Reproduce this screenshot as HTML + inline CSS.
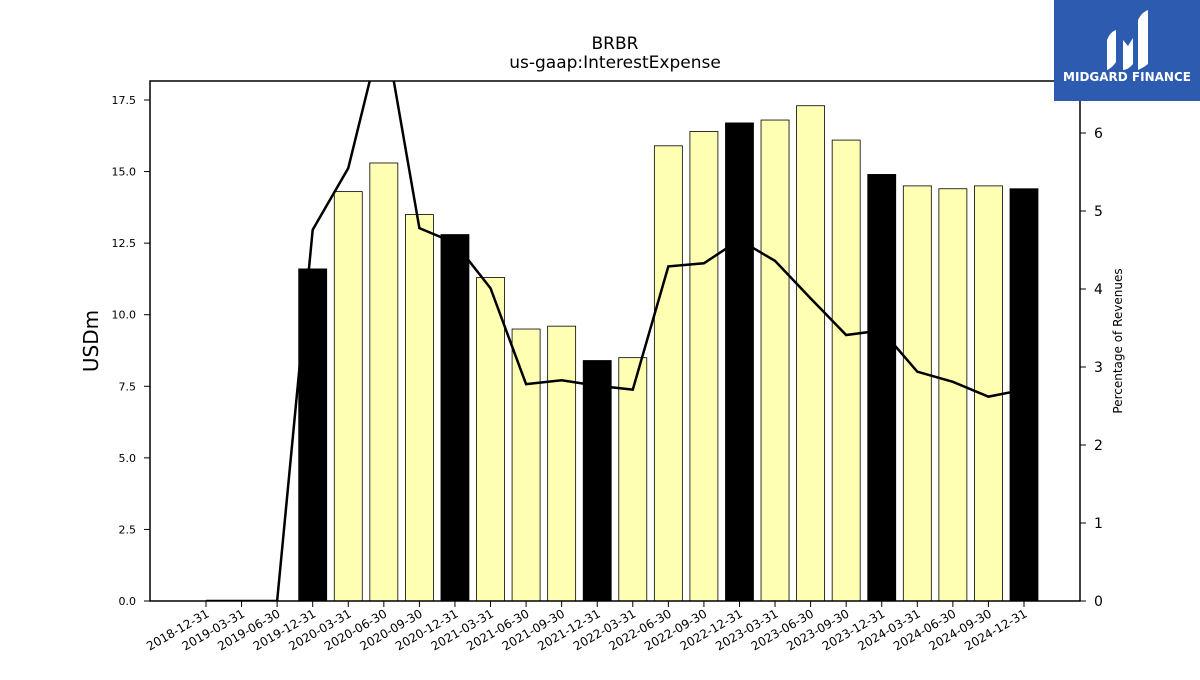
<!DOCTYPE html>
<html><head><meta charset="utf-8"><style>
body{margin:0;background:#fff;width:1200px;height:675px;overflow:hidden;font-family:"Liberation Sans","DejaVu Sans",sans-serif}
</style></head><body>
<svg id="chart" width="1200" height="675" xmlns="http://www.w3.org/2000/svg" font-family="DejaVu Sans, Liberation Sans, sans-serif">
<text x="615" y="49" text-anchor="middle" font-size="17">BRBR</text>
<text x="615" y="68" text-anchor="middle" font-size="17">us-gaap:InterestExpense</text>
<defs><clipPath id="pc"><rect x="150" y="81" width="930" height="520"/></clipPath></defs>
<g id="bars"></g>
<g id="line" clip-path="url(#pc)"></g>
<rect x="150" y="81" width="930" height="520" fill="none" stroke="#000" stroke-width="1.5"/>
<g id="axes"></g>
<text transform="translate(98,341) rotate(-90)" text-anchor="middle" font-size="20">USDm</text>
<text transform="translate(1122,341) rotate(-90)" text-anchor="middle" font-size="12">Percentage of Revenues</text>
<g>
<rect x="1054" y="0" width="146" height="101" fill="#2d5bb0"/>
<path d="M1107 70 L1107 40 Q1110 32 1116 30 L1116 62 Q1112 68 1107 70Z" fill="#fff"/>
<path d="M1123 70 L1123 40 L1128 46 L1133 38 L1133 64 Q1128 70 1123 70Z" fill="#fff"/>
<path d="M1138 70 L1138 20 Q1142 12 1148 10 L1148 64 Q1143 68 1138 70Z" fill="#fff"/>
<text x="1127" y="81" text-anchor="middle" font-size="12" font-weight="bold" fill="#fff">MIDGARD FINANCE</text>
</g>
</svg>
<script>
const categories=["2018-12-31","2019-03-31","2019-06-30","2019-12-31","2020-03-31","2020-06-30","2020-09-30","2020-12-31","2021-03-31","2021-06-30","2021-09-30","2021-12-31","2022-03-31","2022-06-30","2022-09-30","2022-12-31","2023-03-31","2023-06-30","2023-09-30","2023-12-31","2024-03-31","2024-06-30","2024-09-30","2024-12-31"];
const expense=[0,0,0,11.6,14.3,15.3,13.5,12.8,11.3,9.5,9.6,8.4,8.5,15.9,16.4,16.7,16.8,17.3,16.1,14.9,14.5,14.4,14.5,14.4];
const pctRevenue=[0,0,0,4.76,5.55,7.4,4.78,4.59,4.01,2.78,2.83,2.76,2.71,4.29,4.33,4.63,4.36,3.88,3.41,3.47,2.94,2.81,2.62,2.71];
const leftTicks=[0,2.5,5,7.5,10,12.5,15,17.5];
const rightTicks=[0,1,2,3,4,5,6];
const NS="http://www.w3.org/2000/svg";
const x=i=>206+i*(1024-206)/23;
const yL=v=>601-v*(501/17.5);
const yR=v=>601-v*78;
function mk(t,a,p){const e=document.createElementNS(NS,t);for(const k in a)e.setAttribute(k,a[k]);p.appendChild(e);return e;}
const bars=document.getElementById('bars'),line=document.getElementById('line'),axes=document.getElementById('axes');
expense.forEach((v,i)=>{if(v<=0)return;
const annual=categories[i].endsWith('12-31');
const r=mk('rect',{x:x(i)-14,y:yL(v),width:28,height:601-yL(v),fill:annual?'#000':'#ffffb3',stroke:'#000','stroke-width':0.8},bars);

});
const pl=mk('polyline',{points:pctRevenue.map((v,i)=>x(i)+','+yR(v)).join(' '),fill:'none',stroke:'#000','stroke-width':2.5},line);


leftTicks.forEach(t=>{mk('line',{x1:144,x2:150,y1:yL(t),y2:yL(t),stroke:'#000'},axes);
const tx=mk('text',{x:136,y:yL(t)+4,'text-anchor':'end','font-size':11},axes);tx.textContent=t.toFixed(1);

});
rightTicks.forEach(t=>{mk('line',{x1:1080,x2:1086,y1:yR(t),y2:yR(t),stroke:'#000'},axes);
const tx=mk('text',{x:1094,y:yR(t)+5,'font-size':14},axes);tx.textContent=t;

});
categories.forEach((c,i)=>{mk('line',{x1:x(i),x2:x(i),y1:601,y2:607,stroke:'#000'},axes);
const tx=mk('text',{transform:`translate(${x(i)+4},${616}) rotate(-30)`,'text-anchor':'end','font-size':12},axes);tx.textContent=c;

});
</script>
</body></html>
